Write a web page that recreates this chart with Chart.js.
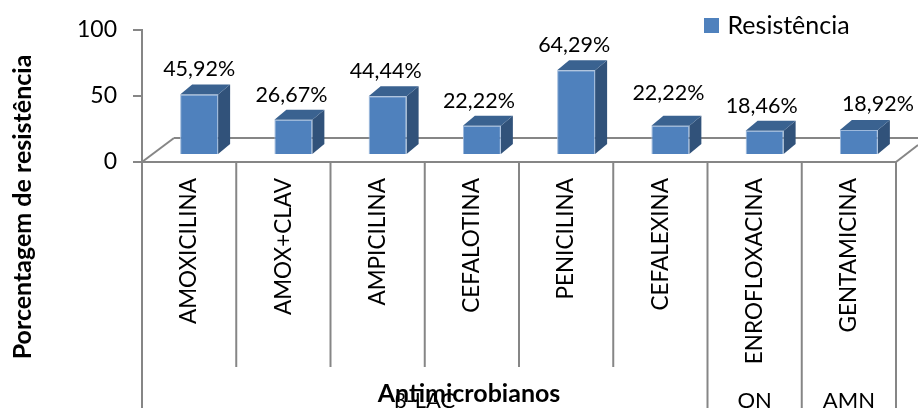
<!DOCTYPE html>
<html><head><meta charset="utf-8">
<style>html,body{margin:0;padding:0;background:#fff}canvas{display:block}</style>
<script src="https://cdn.jsdelivr.net/npm/chart.js@4/dist/chart.umd.min.js"></script>
</head><body><canvas id="c" width="918" height="408"></canvas>
<script>
const categories = ['AMOXICILINA','AMOX+CLAV','AMPICILINA','CEFALOTINA','PENICILINA','CEFALEXINA','ENROFLOXACINA','GENTAMICINA'];
const resistencia = [45.92,26.67,44.44,22.22,64.29,22.22,18.46,18.92];
const groupNames = ['β-LAC','ON','AMN'];
const groupSizes = [6,1,1];
const yTicks = [0,50,100];
const seriesName = 'Resistência';
const xTitle = 'Antimicrobianos';
const yTitle = 'Porcentagem de resistência';
const FONT = 'Lato';
const AXIS = '#868686';
const PROJ = {dx:10, dy:-7, depthX:12, depthY:10, floorX:32, floorY:24};
const labelNudge = [[0,0],[-2,0],[-2,0],[-3,0],[-2,0],[-2,-8],[-3,0],[19,-1]];

const poly=(ctx,pts,fill)=>{ctx.beginPath();pts.forEach((p,i)=>i?ctx.lineTo(p[0],p[1]):ctx.moveTo(p[0],p[1]));ctx.closePath();ctx.fillStyle=fill;ctx.fill();};
const line=(ctx,x1,y1,x2,y2)=>{ctx.beginPath();ctx.moveTo(x1,y1);ctx.lineTo(x2,y2);ctx.stroke();};

const chart3d={
  id:'chart3d',
  afterLayout(chart){
    const l=chart.legend, w=l.right-l.left;
    l.left=700; l.right=700+w; l.top=5; l.bottom=5+(l.height||30);
  },
  beforeDatasetsDraw(chart){
    const {ctx,chartArea:a,scales:{x}}=chart;
    const step=a.width/categories.length;
    ctx.save();
    ctx.strokeStyle=AXIS; ctx.lineWidth=2;
    line(ctx,a.left,a.bottom,a.left+PROJ.floorX,a.bottom-PROJ.floorY);
    line(ctx,a.left+PROJ.floorX,a.bottom-PROJ.floorY,918,a.bottom-PROJ.floorY);
    line(ctx,a.right,a.bottom,918,a.bottom-17);
    line(ctx,a.left,a.bottom,a.right,a.bottom);
    let n=0; const ends=new Set(); groupSizes.forEach(s=>{n+=s;ends.add(n);});
    for(let i=0;i<=categories.length;i++){
      const px=x.getPixelForValue(0)-step/2+i*step;
      line(ctx,px,a.bottom,px,(i===0||ends.has(i))?408:367);
    }
    ctx.restore();
    ctx.save();
    ctx.translate(PROJ.dx,PROJ.dy);
    chart.getDatasetMeta(0).data.forEach(b=>{
      const L=b.x-b.width/2,R=b.x+b.width/2,T=b.y,B=b.base,dx=PROJ.depthX,dy=PROJ.depthY;
      poly(ctx,[[R,T],[R+dx,T-dy],[R+dx,B-dy],[R,B]],'#31527A');
      poly(ctx,[[L,T],[L+dx,T-dy],[R+dx,T-dy],[R,T]],'#3A6290');
    });
  },
  afterDatasetsDraw(chart){
    const {ctx,chartArea:a,scales:{x}}=chart;
    ctx.restore();
    ctx.save();
    ctx.fillStyle='#000'; ctx.textAlign='center'; ctx.textBaseline='middle';
    ctx.font='21.5px '+FONT;
    chart.getDatasetMeta(0).data.forEach((b,i)=>{
      const t=resistencia[i].toFixed(2).replace('.',',')+'%';
      ctx.fillText(t,b.x+PROJ.dx+labelNudge[i][0],b.y+PROJ.dy-25+labelNudge[i][1]);
    });
    const step=a.width/categories.length;
    ctx.textBaseline='alphabetic';
    ctx.font='22px '+FONT;
    let start=0;
    groupSizes.forEach((s,i)=>{
      const cx=x.getPixelForValue(0)-step/2+(start+s/2)*step;
      ctx.fillText(groupNames[i],cx,408);
      start+=s;
    });
    ctx.font='bold 25px '+FONT;
    ctx.fillText(xTitle,469,402);
    ctx.save();
    ctx.translate(31,207);
    ctx.rotate(-Math.PI/2);
    ctx.font='bold 25px '+FONT;
    ctx.fillText(yTitle,0,0);
    ctx.restore();
    ctx.restore();
  }
};

new Chart(document.getElementById('c'),{
  type:'bar',
  data:{labels:categories,datasets:[{
    label:seriesName,data:resistencia,backgroundColor:'#4F81BD',
    borderColor:'#9DB9DC',borderWidth:1,barPercentage:0.403,categoryPercentage:1,clip:false
  }]},
  options:{
    responsive:false,animation:false,
    layout:{padding:{top:30,right:22,left:0,bottom:0}},
    plugins:{
      tooltip:{enabled:false},
      legend:{position:'chartArea',align:'start',
        labels:{boxWidth:7,boxHeight:7,padding:8,color:'#000',font:{family:FONT,size:25},
          generateLabels(chart){
            const items=Chart.defaults.plugins.legend.labels.generateLabels(chart);
            items.forEach(it=>{it.lineWidth=8;it.strokeStyle=it.fillStyle;});
            return items;
          }}}
    },
    scales:{
      y:{min:0,max:100,
        afterBuildTicks(s){s.ticks=yTicks.map(v=>({value:v}));},
        afterFit(s){s.width=142;},
        grid:{drawOnChartArea:false,drawTicks:true,tickLength:9,color:AXIS,lineWidth:2},
        border:{display:true,color:AXIS,width:2},
        ticks:{padding:16,color:'#000',font:{family:FONT,size:23}}},
      x:{afterFit(s){s.height=246;},
        grid:{display:false},border:{display:false},
        ticks:{autoSkip:false,minRotation:90,maxRotation:90,padding:8,color:'#000',font:{family:FONT,size:22.5}}}
    }
  },
  plugins:[chart3d]
});
</script></body></html>
